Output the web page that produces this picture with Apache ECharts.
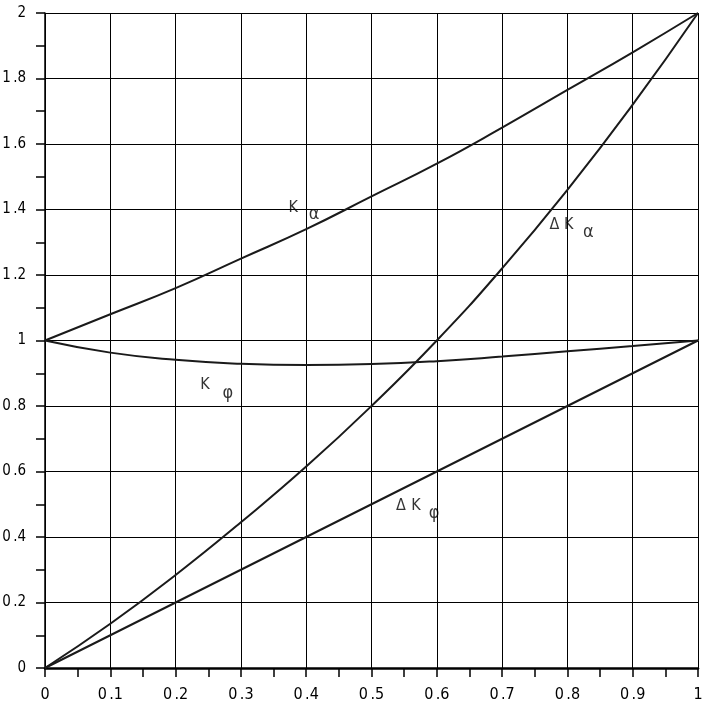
<!DOCTYPE html>
<html><head><meta charset="utf-8">
<script src="https://cdn.jsdelivr.net/npm/echarts@6/dist/echarts.min.js"></script>
<style>html,body{margin:0;padding:0;background:#fff}#c{width:705px;height:710px}</style>
</head><body><div id="c"></div>
<script>
const xs = [0, 0.1, 0.2, 0.3, 0.4, 0.5, 0.6, 0.7, 0.8, 0.9, 1.0];
const kAlpha = [1.0, 1.08, 1.16, 1.25, 1.34, 1.44, 1.54, 1.65, 1.765, 1.88, 2.0];
const dkAlpha = [0.0, 0.135, 0.284, 0.445, 0.615, 0.80, 1.0, 1.22, 1.46, 1.72, 2.0];
const kPhi = [1.0, 0.963, 0.941, 0.929, 0.925, 0.928, 0.937, 0.951, 0.967, 0.983, 1.0];
const dkPhi = [0.0, 0.1, 0.2, 0.3, 0.4, 0.5, 0.6, 0.7, 0.8, 0.9, 1.0];
// curve labels: [x, y, text, fontSize]
const curveLabels = [
  [0.380, 1.405, 'K', 16], [0.412, 1.385, 'α', 18],
  [0.780, 1.352, 'Δ', 16], [0.802, 1.352, 'K', 16], [0.832, 1.330, 'α', 18],
  [0.245, 0.866, 'K', 16], [0.280, 0.840, 'φ', 18],
  [0.545, 0.495, 'Δ', 16], [0.568, 0.495, 'K', 16], [0.596, 0.472, 'φ', 18]
];
const FONT = '"DejaVu Sans Condensed", "Liberation Sans Narrow", "Liberation Sans", sans-serif';
function fmt(v) {
  const r = Math.round(v * 10) / 10;
  if (Math.abs(r - Math.round(r)) < 1e-9) return String(Math.round(r));
  return r.toFixed(1).replace('.', '\u2006.');
}
function pairs(ys) { return xs.map((x, i) => [x, ys[i]]); }
const lineStyle = { color: '#1a1a1a', width: 2 };
const chart = echarts.init(document.getElementById('c'));
chart.setOption({
  animation: false,
  backgroundColor: '#fff',
  grid: { left: 45, right: 7, top: 13, bottom: 42, containLabel: false, outerBoundsMode: 'none' },
  xAxis: {
    type: 'value', min: 0, max: 1, interval: 0.1,
    axisLine: { lineStyle: { color: '#000', width: 2.5 } },
    axisTick: { show: true, length: 9, lineStyle: { color: '#000', width: 1.5 } },
    minorTick: { show: true, splitNumber: 2, length: 9, lineStyle: { color: '#000', width: 1.5 } },
    splitLine: { show: true, lineStyle: { color: '#000', width: 1 } },
    axisLabel: { formatter: fmt, margin: 19, color: '#000', fontSize: 16, fontFamily: FONT }
  },
  yAxis: {
    type: 'value', min: 0, max: 2, interval: 0.2,
    axisLine: { show: true, lineStyle: { color: '#000', width: 1.5 } },
    axisTick: { show: true, length: 9, lineStyle: { color: '#000', width: 1.5 } },
    minorTick: { show: true, splitNumber: 2, length: 9, lineStyle: { color: '#000', width: 1.5 } },
    splitLine: { show: true, lineStyle: { color: '#000', width: 1 } },
    axisLabel: { formatter: fmt, margin: 19, color: '#000', fontSize: 15, fontFamily: FONT }
  },
  series: [
    { type: 'line', data: pairs(kAlpha), smooth: true, symbol: 'none', lineStyle },
    { type: 'line', data: pairs(dkAlpha), smooth: true, symbol: 'none', lineStyle },
    { type: 'line', data: pairs(kPhi), smooth: true, symbol: 'none', lineStyle },
    { type: 'line', data: pairs(dkPhi), smooth: false, symbol: 'none', lineStyle },
    {
      type: 'scatter', symbolSize: 0, silent: true,
      data: curveLabels.map(l => ({ value: [l[0], l[1]], label: { formatter: l[2], fontSize: l[3] } })),
      label: { show: true, position: 'inside', color: '#000', fontFamily: FONT }
    }
  ]
});
</script></body></html>
